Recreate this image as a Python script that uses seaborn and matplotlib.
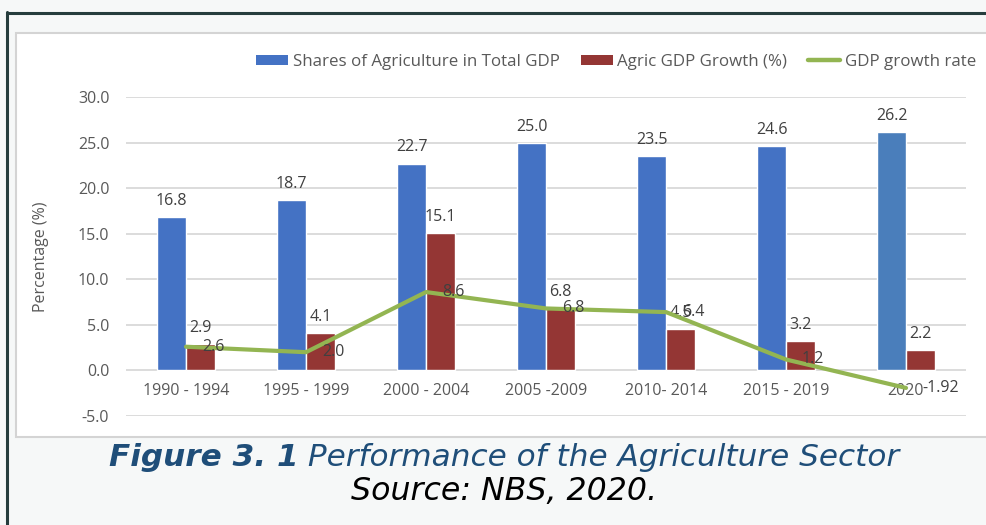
import matplotlib
matplotlib.use("Agg")
import matplotlib.pyplot as plt
import seaborn as sns
import numpy as np
import pandas as pd
from matplotlib.patches import Rectangle, Patch
from matplotlib.lines import Line2D

# ---- data ----
categories = ["1990 - 1994", "1995 - 1999", "2000 - 2004", "2005 -2009",
              "2010- 2014", "2015 - 2019", "2020"]
share_agri = [16.8, 18.7, 22.7, 25.0, 23.5, 24.6, 26.2]
agri_growth = [2.9, 4.1, 15.1, 6.8, 4.5, 3.2, 2.2]
gdp_growth = [2.6, 2.0, 8.6, 6.8, 6.4, 1.2, -1.92]
gdp_labels = ["2.6", "2.0", "8.6", "6.8", "6.4", "1.2", "-1.92"]
series_names = ["Shares of Agriculture in Total GDP", "Agric GDP Growth (%)", "GDP growth rate"]
yticks = [-5, 0, 5, 10, 15, 20, 25, 30]

# ---- style ----
BLUE = "#4472C4"
BLUE_LAST = "#4A7EBB"
RED = "#943634"
GREEN = "#93B552"
GRID = "#D9D9D9"
TXT = "#595959"
LBL = "#404040"

sns.set_theme(style="white")
plt.rcParams["font.family"] = ["Open Sans", "DejaVu Sans"]

W, H = 987, 525
fig = plt.figure(figsize=(W / 100, H / 100), dpi=100)
fig.patch.set_facecolor("#F6F8F8")

def fx(px):
    return px / W

def fy(py):
    return 1 - py / H

# inner white chart box
box = Rectangle((fx(16), fy(437)), fx(1100) - fx(16), fy(33) - fy(437),
                transform=fig.transFigure, facecolor="white",
                edgecolor="#D4D4D4", linewidth=1.5, zorder=-2)
fig.add_artist(box)
# dark outer border (left and top)
fig.add_artist(Line2D([fx(7.5), fx(7.5)], [fy(12), fy(530)], transform=fig.transFigure,
                      color="#263D3D", linewidth=2.2, zorder=-1))
fig.add_artist(Line2D([fx(6.5), fx(990)], [fy(12.5), fy(12.5)], transform=fig.transFigure,
                      color="#263D3D", linewidth=2.2, zorder=-1))

ax = fig.add_axes([fx(126), fy(416), fx(966) - fx(126), fy(97) - fy(416)])
ax.set_zorder(2)
ax.set_facecolor("none")

df = pd.DataFrame({
    "cat": categories * 2,
    "value": share_agri + agri_growth,
    "series": [series_names[0]] * len(categories) + [series_names[1]] * len(categories),
})
sns.barplot(data=df, x="cat", y="value", hue="series", palette=[BLUE, RED],
            width=0.48, saturation=1, errorbar=None, legend=False, ax=ax, zorder=3)

# last blue bar slightly different tint
ax.containers[0].patches[-1].set_facecolor(BLUE_LAST)

for cont in ax.containers:
    ax.bar_label(cont, fmt="%.1f", padding=5.8, fontsize=11.5, color=LBL)

xpos = np.arange(len(categories))
sns.lineplot(x=xpos, y=gdp_growth, color=GREEN, linewidth=3.0, ax=ax, zorder=4)
for x, y, t in zip(xpos, gdp_growth, gdp_labels):
    ax.annotate(t, (x, y), xytext=(11.5, 0), textcoords="offset points",
                ha="left", va="center", fontsize=11.5, color=LBL, zorder=5)

ax.set_ylim(-5, 30)
ax.set_xlim(-0.5, 6.5)
ax.set_yticks(yticks)
ax.set_yticklabels([f"{v:.1f}" for v in yticks])
ax.yaxis.grid(True, color=GRID, linewidth=1.3, zorder=0)
ax.set_axisbelow(True)
ax.spines["bottom"].set_position(("data", 0))
for s in ax.spines.values():
    s.set_visible(False)
ax.tick_params(axis="y", length=0, pad=12, labelsize=11.5, labelcolor=TXT)
ax.tick_params(axis="x", length=0, pad=9, labelsize=11.5, labelcolor=TXT)
ax.set_xlabel("")
ax.set_ylabel("Percentage (%)", fontsize=11.5, color=TXT)
ax.yaxis.set_label_coords((49 - 126) / (966 - 126), 0.5)

handles = [Patch(facecolor=BLUE, edgecolor="none"),
           Patch(facecolor=RED, edgecolor="none"),
           Line2D([0], [0], color=GREEN, linewidth=3.2)]
fig.legend(handles, series_names, loc="center", bbox_to_anchor=(fx(616), fy(62)),
           ncol=3, frameon=False, fontsize=12.2, labelcolor=TXT,
           handlelength=1.9, handleheight=0.55, handletextpad=0.25, columnspacing=1.25)

# caption
CAP = "#1F4E79"
cap_size = 22.4
t1 = fig.text(0, fy(458), "Figure 3. 1", fontsize=cap_size, fontweight="bold",
              fontstyle="italic", color=CAP, family="DejaVu Sans", ha="left", va="center")
t2 = fig.text(0, fy(458), " Performance of the Agriculture Sector", fontsize=cap_size,
              fontstyle="italic", color=CAP, family="DejaVu Sans", ha="left", va="center")
fig.canvas.draw()
r = fig.canvas.get_renderer()
w1 = t1.get_window_extent(r).width
w2 = t2.get_window_extent(r).width
start = 504 - (w1 + w2) / 2
t1.set_x(fx(start))
t2.set_x(fx(start + w1))
fig.text(fx(504), fy(492), "Source: NBS, 2020.", fontsize=22.8, fontstyle="italic",
         color="black", family="DejaVu Sans", ha="center", va="center")

fig.savefig("out.png", dpi=100, facecolor=fig.get_facecolor())
